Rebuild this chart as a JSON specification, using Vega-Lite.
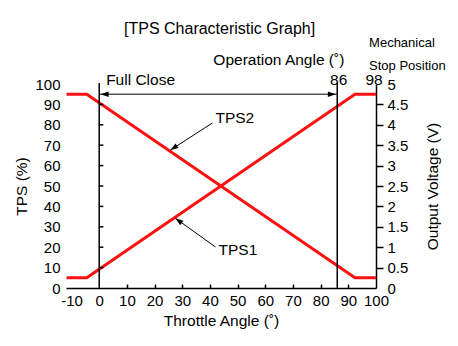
{
  "$schema": "https://vega.github.io/schema/vega-lite/v6.json",
  "width": 310,
  "height": 204,
  "autosize": {"type": "none"},
  "padding": {"left": 66, "top": 84, "right": 82, "bottom": 58},
  "background": "white",
  "config": {
    "view": {"stroke": null},
    "axis": {"grid": false, "labelFont": "Liberation Sans", "titleFont": "Liberation Sans", "labelFontSize": 15, "titleFontSize": 15.5, "titleFontWeight": "normal", "labelColor": "black", "titleColor": "black", "domainColor": "black", "tickColor": "black", "domainWidth": 1.5, "tickWidth": 1.5, "labelFlush": false},
    "text": {"font": "Liberation Sans", "color": "black"}
  },
  "datasets": {
    "curves": [
      {"series": "TPS1", "x": -11.8, "y": 5},
      {"series": "TPS1", "x": -4.5, "y": 5},
      {"series": "TPS1", "x": 92.4, "y": 95},
      {"series": "TPS1", "x": 100, "y": 95},
      {"series": "TPS2", "x": -11.8, "y": 95},
      {"series": "TPS2", "x": -4.5, "y": 95},
      {"series": "TPS2", "x": 92.4, "y": 5},
      {"series": "TPS2", "x": 100, "y": 5}
    ],
    "verticals": [{"x": 0}, {"x": 86}],
    "leftticks": [{"y": 10}, {"y": 20}, {"y": 30}, {"y": 40}, {"y": 50}, {"y": 60}, {"y": 70}, {"y": 80}, {"y": 90}],
    "pointers": [
      {"name": "TPS2", "x": 40.9, "y": 80.9, "x2": 25.7, "y2": 67.6},
      {"name": "TPS1", "x": 42, "y": 20.1, "x2": 27.5, "y2": 34.2},
      {"name": "Full Close", "x": 0, "y": 95, "x2": 86, "y2": 95}
    ],
    "leftlabels": [
      {"label": "Full Close", "x": 2.5, "y": 101.8},
      {"label": "TPS2", "x": 42, "y": 83.3},
      {"label": "TPS1", "x": 43.1, "y": 18.6}
    ],
    "centerlabels": [
      {"label": "Operation Angle (˚)", "x": 64.9, "y": 111.8},
      {"label": "86", "x": 86.5, "y": 101.8},
      {"label": "98", "x": 99.3, "y": 101.8}
    ],
    "heading": [{"label": "[TPS Characteristic Graph]", "x": 43.5, "y": 127}],
    "small": [
      {"label": "Mechanical", "x": 97.5, "y": 120.2},
      {"label": "Stop Position", "x": 97.5, "y": 108.8}
    ]
  },
  "layer": [
    {
      "data": {"name": "curves"},
      "mark": {"type": "line", "color": "#ff1010", "strokeWidth": 3},
      "encoding": {
        "x": {"field": "x", "type": "quantitative", "scale": {"domain": [-12, 100], "nice": false, "zero": false},
          "axis": {"title": "Throttle Angle (˚)", "values": [-10, 0, 10, 20, 30, 40, 50, 60, 70, 80, 90, 100], "tickCount": 12, "labelExpr": "'' + datum.value", "tickSize": -4, "labelPadding": 9, "titlePadding": 5, "labelFlush": false, "labelOverlap": false, "labelBound": false,
            "tickOpacity": {"condition": {"test": "datum.value < 5 || datum.value > 95", "value": 0}, "value": 1}}},
        "y": {"field": "y", "type": "quantitative", "scale": {"domain": [0, 100], "nice": false},
          "axis": {"orient": "left", "title": "TPS (%)", "values": [0, 10, 20, 30, 40, 50, 60, 70, 80, 90, 100], "tickCount": 11, "domain": false, "ticks": false, "labelPadding": 6, "titlePadding": 5, "labelFlush": false, "labelOverlap": false}},
        "detail": {"field": "series"}
      }
    },
    {
      "data": {"name": "leftticks"},
      "mark": {"type": "rule", "color": "black", "strokeWidth": 1.5},
      "encoding": {
        "x": {"datum": 0, "type": "quantitative"},
        "x2": {"datum": 1.5},
        "y": {"field": "y", "type": "quantitative", "scale": {"domain": [0, 100], "nice": false},
          "axis": {"orient": "right", "title": "Output Voltage (V)", "titleAngle": 270, "values": [0, 10, 20, 30, 40, 50, 60, 70, 80, 90, 100], "tickCount": 11, "labelExpr": "datum.value / 20 + ''", "tickSize": 7, "labelPadding": 4, "titlePadding": 33, "labelFlush": false, "labelOverlap": false,
            "tickOpacity": {"condition": {"test": "datum.value < 5 || datum.value > 95", "value": 0}, "value": 1}}}
      }
    },
    {
      "data": {"name": "verticals"},
      "mark": {"type": "rule", "color": "black", "strokeWidth": 1.5},
      "encoding": {
        "x": {"field": "x", "type": "quantitative"},
        "y": {"datum": 0, "type": "quantitative", "axis": null},
        "y2": {"datum": 100.5}
      }
    },
    {
      "data": {"name": "pointers"},
      "mark": {"type": "rule", "color": "black", "strokeWidth": 1},
      "encoding": {
        "x": {"field": "x", "type": "quantitative"},
        "x2": {"field": "x2"},
        "y": {"field": "y", "type": "quantitative", "axis": null},
        "y2": {"field": "y2"}
      }
    },
    {
      "data": {"values": [{"x": 25.7, "y": 67.6}]},
      "mark": {"type": "point", "shape": "M0,0L-0.35,1L0.35,1Z", "size": 256, "filled": true, "color": "black", "opacity": 1, "strokeWidth": 0, "angle": 237},
      "encoding": {"x": {"field": "x", "type": "quantitative"}, "y": {"field": "y", "type": "quantitative", "axis": null}}
    },
    {
      "data": {"values": [{"x": 27.5, "y": 34.2}]},
      "mark": {"type": "point", "shape": "M0,0L-0.35,1L0.35,1Z", "size": 256, "filled": true, "color": "black", "opacity": 1, "strokeWidth": 0, "angle": 306},
      "encoding": {"x": {"field": "x", "type": "quantitative"}, "y": {"field": "y", "type": "quantitative", "axis": null}}
    },
    {
      "data": {"values": [{"x": 0.5, "y": 95}]},
      "mark": {"type": "point", "shape": "M0,0L-0.35,1L0.35,1Z", "size": 256, "filled": true, "color": "black", "opacity": 1, "strokeWidth": 0, "angle": 270},
      "encoding": {"x": {"field": "x", "type": "quantitative"}, "y": {"field": "y", "type": "quantitative", "axis": null}}
    },
    {
      "data": {"values": [{"x": 85.5, "y": 95}]},
      "mark": {"type": "point", "shape": "M0,0L-0.35,1L0.35,1Z", "size": 256, "filled": true, "color": "black", "opacity": 1, "strokeWidth": 0, "angle": 90},
      "encoding": {"x": {"field": "x", "type": "quantitative"}, "y": {"field": "y", "type": "quantitative", "axis": null}}
    },
    {
      "data": {"name": "leftlabels"},
      "mark": {"type": "text", "fontSize": 15.5, "baseline": "middle", "align": "left"},
      "encoding": {
        "x": {"field": "x", "type": "quantitative"},
        "y": {"field": "y", "type": "quantitative", "axis": null},
        "text": {"field": "label"}
      }
    },
    {
      "data": {"name": "centerlabels"},
      "mark": {"type": "text", "fontSize": 15.5, "baseline": "middle", "align": "center"},
      "encoding": {
        "x": {"field": "x", "type": "quantitative"},
        "y": {"field": "y", "type": "quantitative", "axis": null},
        "text": {"field": "label"}
      }
    },
    {
      "data": {"name": "heading"},
      "mark": {"type": "text", "fontSize": 16, "baseline": "middle", "align": "center"},
      "encoding": {
        "x": {"field": "x", "type": "quantitative"},
        "y": {"field": "y", "type": "quantitative", "axis": null},
        "text": {"field": "label"}
      }
    },
    {
      "data": {"name": "small"},
      "mark": {"type": "text", "fontSize": 13, "baseline": "middle", "align": "left"},
      "encoding": {
        "x": {"field": "x", "type": "quantitative"},
        "y": {"field": "y", "type": "quantitative", "axis": null},
        "text": {"field": "label"}
      }
    }
  ],
  "resolve": {"axis": {"y": "independent"}}
}
